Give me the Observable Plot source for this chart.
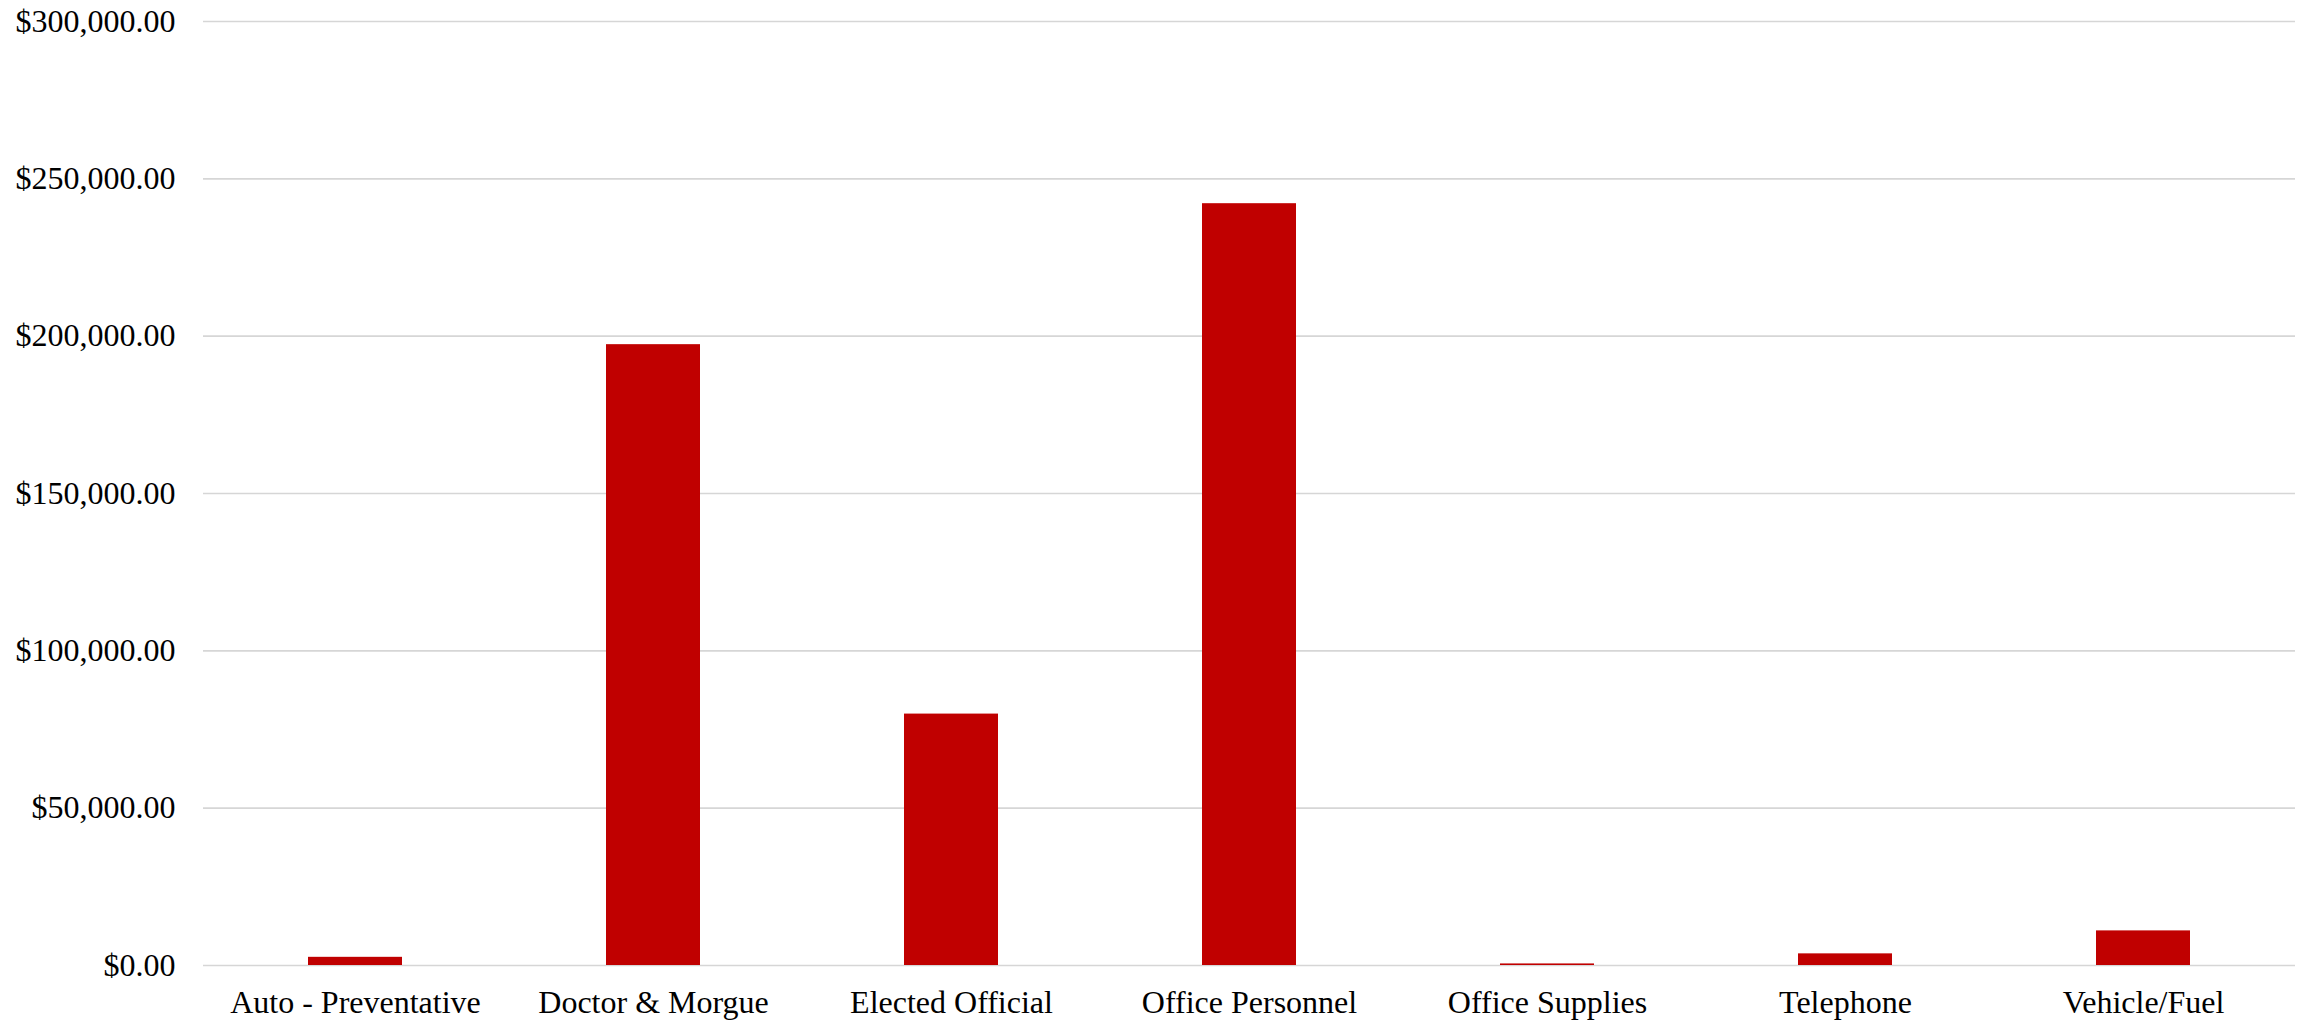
<!DOCTYPE html>
<html>
<head>
<meta charset="utf-8">
<script src="https://cdn.jsdelivr.net/npm/d3@7"></script>
<script src="https://cdn.jsdelivr.net/npm/@observablehq/plot@0.6"></script>
<style>
  html, body { margin: 0; padding: 0; background: #fff; }
  #chart svg { display: block; }
</style>
</head>
<body>
<div id="chart"></div>
<script>
const categories = ["Auto - Preventative", "Doctor & Morgue", "Elected Official", "Office Personnel", "Office Supplies", "Telephone", "Vehicle/Fuel"];
const amounts = [2600, 197300, 79900, 242100, 500, 3700, 11000];
const yTicks = [0, 50000, 100000, 150000, 200000, 250000, 300000];

const data = categories.map((c, i) => ({category: c, amount: amounts[i]}));
const money = v => "$" + d3.format(",.2f")(v);

const chart = Plot.plot({
  width: 2313,
  height: 1022,
  marginTop: 21,
  marginBottom: 57,
  marginLeft: 203,
  marginRight: 18,
  style: {fontFamily: "'Liberation Serif', 'Times New Roman', serif", fontSize: "32px", color: "#000", background: "#fff"},
  x: {domain: categories, paddingInner: 0.685, paddingOuter: 0.3425, label: null},
  y: {domain: [0, 300000], label: null},
  marks: [
    Plot.ruleY(yTicks, {stroke: "#d6d6d6", strokeWidth: 1.7}),
    Plot.barY(data, {x: "category", y: "amount", fill: "#C00000"}),
    Plot.axisY({ticks: yTicks, tickFormat: money, tickSize: 0, tickPadding: 28, fontSize: 32, label: null}),
    Plot.axisX({tickSize: 0, tickPadding: 25, fontSize: 32, label: null})
  ]
});
document.getElementById("chart").appendChild(chart);
</script>
</body>
</html>
